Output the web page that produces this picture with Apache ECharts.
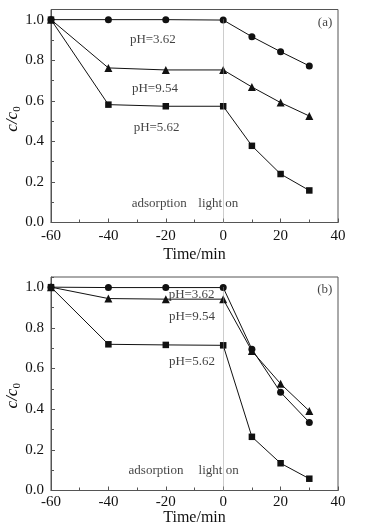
<!DOCTYPE html>
<html>
<head>
<meta charset="utf-8">
<script src="https://cdn.jsdelivr.net/npm/echarts@6/dist/echarts.min.js"></script>
<style>
  html, body { margin: 0; padding: 0; background: #fff; }
  #chart { width: 371px; height: 532px; }
</style>
</head>
<body>
<div id="chart"></div>
<script>
// time axis shared by both panels (min)
const time = [-60, -40, -20, 0, 10, 20, 30];

// panel (a)
const aPH362 = [1.0, 1.0, 1.0, 0.998, 0.916, 0.842, 0.772];
const aPH954 = [1.0, 0.762, 0.752, 0.752, 0.668, 0.591, 0.525];
const aPH562 = [1.0, 0.581, 0.573, 0.573, 0.378, 0.239, 0.158];

// panel (b)
const bPH362 = [1.0, 0.998, 0.998, 0.998, 0.695, 0.483, 0.335];
const bPH954 = [1.0, 0.944, 0.941, 0.941, 0.686, 0.525, 0.391];
const bPH562 = [1.0, 0.719, 0.716, 0.714, 0.264, 0.134, 0.058];

// text annotations [text, x, y]
const aNotes = [
  ['pH=3.62', -24.5, 0.90],
  ['pH=9.54', -23.8, 0.66],
  ['pH=5.62', -23.2, 0.47],
  ['adsorption', -22.3, 0.093],
  ['light on', -1.7, 0.091],
  ['(a)', 35.5, 0.987]
];
const bNotes = [
  ['pH=3.62', -11.0, 0.965],
  ['pH=9.54', -10.9, 0.855],
  ['pH=5.62', -10.9, 0.632],
  ['adsorption', -23.4, 0.096],
  ['light on', -1.6, 0.096],
  ['(b)', 35.4, 0.987]
];

const lightOn = 0;
const xTicks = { min: -60, max: 40, interval: 20 };
const yTicks = { min: 0, max: 1.05, interval: 0.2 };

const FONT = 'Liberation Serif';
const INK = '#111';
const FRAME = '#555';

const chart = echarts.init(document.getElementById('chart'));

function xAxis(gridIndex, labelMargin, nameGap) {
  return {
    type: 'value',
    gridIndex,
    min: xTicks.min,
    max: xTicks.max,
    interval: xTicks.interval,
    name: 'Time/min',
    nameLocation: 'middle',
    nameGap,
    nameMoveOverlap: false,
    nameTextStyle: { fontFamily: FONT, fontSize: 16, color: INK },
    axisLine: { onZero: false, lineStyle: { color: FRAME, width: 1 } },
    axisTick: { inside: true, length: 4, lineStyle: { color: FRAME } },
    minorTick: { show: true, splitNumber: 2, length: 3, lineStyle: { color: FRAME } },
    axisLabel: { fontFamily: FONT, fontSize: 15, color: INK, margin: labelMargin },
    splitLine: { show: false }
  };
}

function yAxis(gridIndex, namePad) {
  return {
    type: 'value',
    gridIndex,
    position: 'left',
    min: yTicks.min,
    max: yTicks.max,
    interval: yTicks.interval,
    name: '{i|c/c}{s|0}',
    nameLocation: 'middle',
    nameGap: 28,
    nameMoveOverlap: false,
    nameTextStyle: {
      padding: namePad,
      rich: {
        i: { fontFamily: FONT, fontSize: 17, fontStyle: 'italic', color: INK, lineHeight: 20 },
        s: { fontFamily: FONT, fontSize: 11, color: INK, lineHeight: 11, verticalAlign: 'bottom' }
      }
    },
    axisLine: { onZero: false, lineStyle: { color: FRAME, width: 1 } },
    axisTick: { inside: true, length: 4, lineStyle: { color: FRAME } },
    axisLabel: {
      fontFamily: FONT, fontSize: 15, color: INK, margin: 7,
      showMaxLabel: false,
      formatter: (v) => v.toFixed(1)
    },
    splitLine: { show: false }
  };
}

// second axis per grid just for the short ticks at every 0.1
function yMinor(gridIndex) {
  return {
    type: 'value',
    gridIndex,
    position: 'left',
    min: yTicks.min,
    max: yTicks.max,
    interval: 0.1,
    axisLine: { show: false, onZero: false },
    axisTick: { inside: true, length: 3, lineStyle: { color: FRAME } },
    axisLabel: { show: false },
    splitLine: { show: false }
  };
}

function lineSeries(name, values, symbol, size, xi, yi, withMark) {
  const s = {
    name,
    type: 'line',
    xAxisIndex: xi,
    yAxisIndex: yi,
    data: time.map((t, i) => [t, values[i]]),
    symbol,
    symbolSize: size,
    showAllSymbol: true,
    lineStyle: { color: INK, width: 1 },
    itemStyle: { color: INK },
    z: 3
  };
  if (withMark) {
    s.markLine = {
      silent: true,
      symbol: ['none', 'none'],
      label: { show: false },
      lineStyle: { color: '#9a9a9a', type: 'dotted', width: 1 },
      data: [[{ coord: [lightOn, 0] }, { coord: [lightOn, 1.0] }]]
    };
  }
  return s;
}

function noteSeries(notes, xi, yi) {
  return {
    type: 'scatter',
    xAxisIndex: xi,
    yAxisIndex: yi,
    silent: true,
    symbolSize: 0,
    z: 5,
    data: notes.map(n => ({ name: n[0], value: [n[1], n[2]] })),
    label: {
      show: true,
      position: 'inside',
      formatter: '{b}',
      fontFamily: FONT,
      fontSize: 13,
      color: INK
    }
  };
}

chart.setOption({
  animation: false,
  backgroundColor: '#fff',
  grid: [
    { left: 51, width: 287, top: 9.5, height: 213, outerBoundsMode: 'none', containLabel: false,
      show: true, borderColor: FRAME, borderWidth: 1 },
    { left: 51, width: 287, top: 277, height: 213.5, outerBoundsMode: 'none', containLabel: false,
      show: true, borderColor: FRAME, borderWidth: 1 }
  ],
  xAxis: [xAxis(0, 6, 24), xAxis(1, 4, 19)],
  yAxis: [yAxis(0, [0, 6, 0, 0]), yMinor(0), yAxis(1, [0, 24, 0, 0]), yMinor(1)],
  series: [
    lineSeries('a 3.62', aPH362, 'circle', 7, 0, 0, true),
    lineSeries('a 9.54', aPH954, 'triangle', 8, 0, 0, false),
    lineSeries('a 5.62', aPH562, 'rect', 6.5, 0, 0, false),
    noteSeries(aNotes, 0, 0),
    lineSeries('b 3.62', bPH362, 'circle', 7, 1, 2, true),
    lineSeries('b 9.54', bPH954, 'triangle', 8, 1, 2, false),
    lineSeries('b 5.62', bPH562, 'rect', 6.5, 1, 2, false),
    noteSeries(bNotes, 1, 2)
  ]
});
</script>
</body>
</html>
